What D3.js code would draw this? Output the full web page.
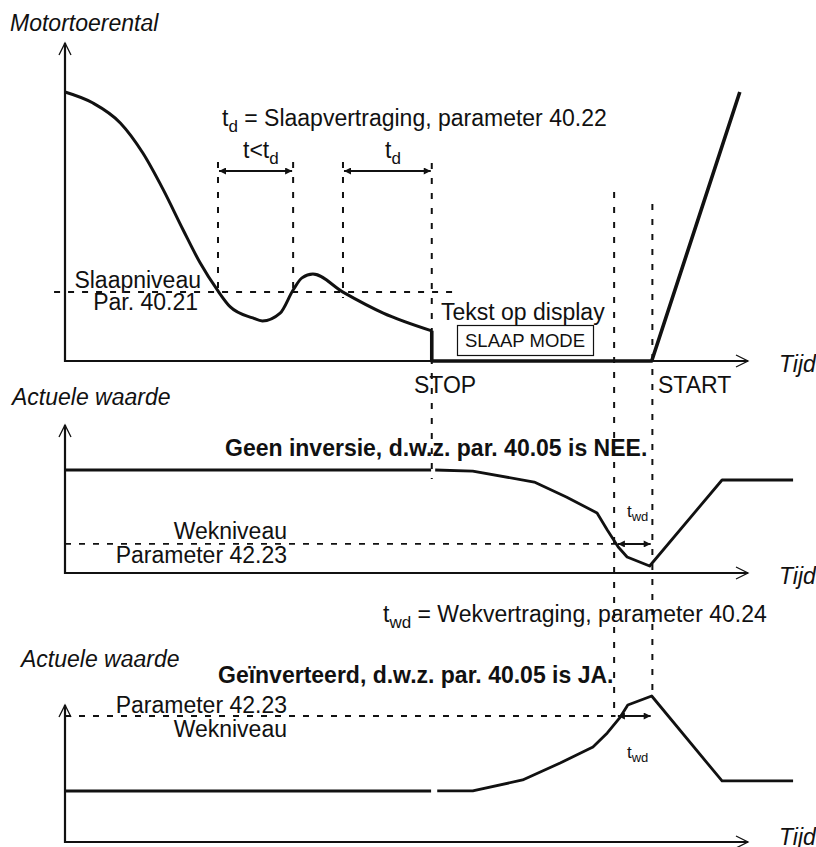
<!DOCTYPE html>
<html>
<head>
<meta charset="utf-8">
<script src="https://cdn.jsdelivr.net/npm/d3@7"></script>
<style>
  html, body { margin: 0; padding: 0; background: #fff; }
  svg text { font-family: "Liberation Sans", Arial, sans-serif; fill: #111; }
</style>
</head>
<body>
<svg id="chart" width="816" height="847"></svg>
<script>
// Motor speed (top panel), before the stop
const speedTime  = [0, 4.1, 8.1, 11.4, 14.4, 17.3, 19.8, 22.3, 24.2, 27.5, 28.9, 31.5, 33.4, 34.7, 36.3, 40.7, 46.6, 53.7];
const speedValue = [100, 95.9, 88.5, 77.3, 63.6, 48.7, 36.4, 26.4, 20.1, 16.0, 14.9, 17.8, 26.4, 30.9, 32.3, 25.6, 17.8, 11.2];
// Motor speed while sleeping and after restart
const sleepTime  = [53.7, 53.7, 85.9, 98.8];
const sleepValue = [11.2, 0, 0, 100];

// Actual value, not inverted (middle panel)
const normalTime1  = [0, 53.6];
const normalValue1 = [100, 100];
const normalTime2  = [54.2, 59.7, 68.7, 73.4, 77.9, 79.4, 81.0, 82.3, 85.6, 96.2, 106.6];
const normalValue2 = [100, 99, 88.3, 73.8, 58.3, 41.7, 25.2, 15.5, 6.8, 90.3, 90.3];

// Actual value, inverted (bottom panel)
const invTime1  = [0, 53.6];
const invValue1 = [34.9, 34.9];
const invTime2  = [54.5, 59.7, 67.0, 72.5, 77.3, 79.4, 81.3, 82.4, 85.9, 96.2, 106.6];
const invValue2 = [35, 35, 42.5, 54.1, 65.1, 74.7, 85.6, 93.8, 100, 41.8, 41.8];

// levels
const sleepLevel = 25.65;
const wakeLevelNormal = 28.2;
const wakeLevelInv = 86.3;

// event times: t<td start/end, td start/end(STOP), wake crossing, START
const guideTimes = [22.4, 33.4, 40.7, 53.7, 80.4, 86.0];

const svg = d3.select('#chart');
const x = d3.scaleLinear().domain([0, 100]).range([65, 748]);
const yTop = d3.scaleLinear().domain([0, 100]).range([361, 92]);
const yMid = d3.scaleLinear().domain([0, 100]).range([573, 470]);
const yBot = d3.scaleLinear().domain([0, 100]).range([842, 696]);

const zip = (a, b) => a.map((v, i) => [v, b[i]]);

// Arrow markers for dimension lines
const defs = svg.append('defs');
function marker(id, orient) {
    defs.append('marker')
        .attr('id', id)
        .attr('viewBox', '0 0 10 10')
        .attr('refX', 10).attr('refY', 5)
        .attr('markerWidth', 9).attr('markerHeight', 7)
        .attr('markerUnits', 'userSpaceOnUse')
        .attr('orient', orient)
        .append('path')
        .attr('d', 'M0,0 L10,5 L0,10 Z')
        .attr('fill', '#111');
}
marker('arrowEnd', 'auto');
marker('arrowStart', 'auto-start-reverse');

// Axes with open arrow heads
function drawAxes(yScale, yTip) {
    const g = svg.append('g').attr('stroke', '#111').attr('fill', 'none');
    const x0 = x(0), y0 = yScale(0), xTip = x(100);
    g.append('line').attr('x1', x0).attr('y1', y0 + 1).attr('x2', x0).attr('y2', yTip)
        .attr('stroke-width', 2.2);
    g.append('line').attr('x1', x0).attr('y1', y0).attr('x2', xTip).attr('y2', y0)
        .attr('stroke-width', 2.2);
    g.append('path').attr('stroke-width', 1.3)
        .attr('d', `M${x0 - 6},${yTip + 12} L${x0},${yTip} L${x0 + 6},${yTip + 12}`);
    g.append('path').attr('stroke-width', 1.3)
        .attr('d', `M${xTip - 12},${y0 - 6} L${xTip},${y0} L${xTip - 12},${y0 + 6}`);
}
drawAxes(yTop, 43);
drawAxes(yMid, 425);
drawAxes(yBot, 705);

// Vertical dashed guides
const guideSpans = [[162, 292], [162, 292], [162, 298], [163, 479], [192, 715], [204, 697]];
svg.append('g').selectAll('line')
    .data(guideTimes)
    .join('line')
    .attr('x1', d => x(d)).attr('x2', d => x(d))
    .attr('y1', (d, i) => guideSpans[i][0])
    .attr('y2', (d, i) => guideSpans[i][1])
    .attr('stroke', '#111')
    .attr('stroke-width', 2)
    .attr('stroke-dasharray', '6,9');

// Horizontal level lines
function levelLine(t0, t1, yv) {
    svg.append('line')
        .attr('x1', x(t0)).attr('x2', x(t1))
        .attr('y1', yv).attr('y2', yv)
        .attr('stroke', '#111')
        .attr('stroke-width', 1.8)
        .attr('stroke-dasharray', '6,8');
}
levelLine(-1.6, 57.1, yTop(sleepLevel));
levelLine(0, 80.6, yMid(wakeLevelNormal));
levelLine(0, 80.6, yBot(wakeLevelInv));

// Signal curves
function drawLine(data, yScale, curve, width) {
    const line = d3.line()
        .x(d => x(d[0]))
        .y(d => yScale(d[1]))
        .curve(curve);
    svg.append('path')
        .datum(data)
        .attr('d', line)
        .attr('fill', 'none')
        .attr('stroke', '#111')
        .attr('stroke-width', width)
        .attr('stroke-linejoin', 'round');
}
drawLine(zip(speedTime, speedValue), yTop, d3.curveMonotoneX, 3);
drawLine(zip(sleepTime, sleepValue), yTop, d3.curveLinear, 3.6);
drawLine(zip(normalTime1, normalValue1), yMid, d3.curveLinear, 3);
drawLine(zip(normalTime2, normalValue2), yMid, d3.curveLinear, 2.8);
drawLine(zip(invTime1, invValue1), yBot, d3.curveLinear, 3);
drawLine(zip(invTime2, invValue2), yBot, d3.curveLinear, 2.8);

// Dimension arrows
function dimArrow(t0, t1, yv) {
    svg.append('line')
        .attr('x1', x(t0) + 1).attr('x2', x(t1) - 1)
        .attr('y1', yv).attr('y2', yv)
        .attr('stroke', '#111')
        .attr('stroke-width', 2)
        .attr('marker-start', 'url(#arrowStart)')
        .attr('marker-end', 'url(#arrowEnd)');
}
dimArrow(guideTimes[0], guideTimes[1], 171);
dimArrow(guideTimes[2], guideTimes[3], 171);
dimArrow(80.8, 85.9, yMid(wakeLevelNormal));
dimArrow(80.8, 85.9, yBot(wakeLevelInv));

// Display box
svg.append('rect')
    .attr('x', 457.5).attr('y', 325.5)
    .attr('width', 136).attr('height', 30)
    .attr('fill', '#fff').attr('stroke', '#111').attr('stroke-width', 1.2);

// Texts: each part is [text, size, dy]
function label(xp, yp, anchor, parts, weight, italic) {
    const t = svg.append('text')
        .attr('x', xp).attr('y', yp)
        .attr('text-anchor', anchor)
        .attr('font-weight', weight || 'normal')
        .attr('font-style', italic ? 'italic' : 'normal');
    parts.forEach(p => {
        t.append('tspan')
            .attr('font-size', p[1])
            .attr('dy', p[2] || 0)
            .text(p[0]);
    });
}
const F = 23;
label(10, 31, 'start', [['Motortoerental', F]], 'normal', true);
label(222, 126, 'start', [['t', F], ['d', 17, 6], [' = Slaapvertraging, parameter 40.22', F, -6]]);
label(243, 158, 'start', [['t<t', F], ['d', 17, 6]]);
label(385, 158, 'start', [['t', F], ['d', 17, 6]]);
label(201, 288, 'end', [['Slaapniveau', F]]);
label(198, 310, 'end', [['Par. 40.21', F]]);
label(441, 320, 'start', [['Tekst op display', F]]);
label(525, 347, 'middle', [['SLAAP MODE', 18.5]]);
label(414, 393, 'start', [['STOP', F]]);
label(658, 393, 'start', [['START', F]]);
label(779, 372, 'start', [['Tijd', F]], 'normal', true);

label(12, 405, 'start', [['Actuele waarde', F]], 'normal', true);
label(225, 456, 'start', [['Geen inversie, d.w.z. par. 40.05 is NEE.', F]], 'bold');
label(287, 539, 'end', [['Wekniveau', F]]);
label(287, 563, 'end', [['Parameter 42.23', F]]);
label(627, 517, 'start', [['t', 17], ['wd', 13, 4]]);
label(779, 584, 'start', [['Tijd', F]], 'normal', true);

label(383, 622, 'start', [['t', F], ['wd', 17, 6], [' = Wekvertraging, parameter 40.24', F, -6]]);

label(21, 667, 'start', [['Actuele waarde', F]], 'normal', true);
label(218, 683, 'start', [['Geïnverteerd, d.w.z. par. 40.05 is JA.', F]], 'bold');
label(287, 713, 'end', [['Parameter 42.23', F]]);
label(287, 737, 'end', [['Wekniveau', F]]);
label(627, 758, 'start', [['t', 17], ['wd', 13, 4]]);
label(779, 845, 'start', [['Tijd', F]], 'normal', true);
</script>
</body>
</html>
